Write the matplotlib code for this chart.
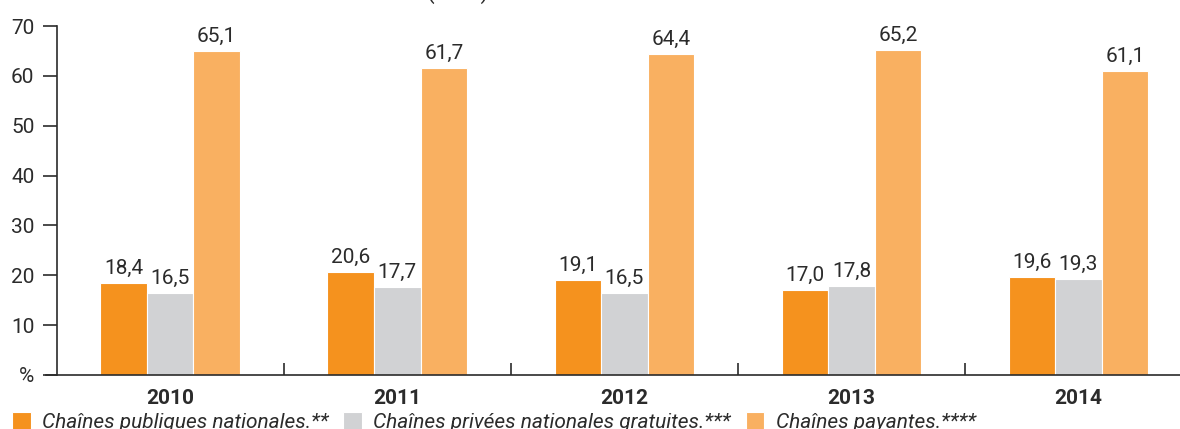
import numpy as np
import matplotlib.pyplot as plt
from matplotlib.ticker import FixedLocator

# Data
years = ['2010', '2011', '2012', '2013', '2014']
publiques = [18.4, 20.6, 19.1, 17.0, 19.6]
privees = [16.5, 17.7, 16.5, 17.8, 19.3]
payantes = [65.1, 61.7, 64.4, 65.2, 61.1]
series_names = ['Chaînes publiques nationales.**',
                'Chaînes privées nationales gratuites.***',
                'Chaînes payantes.****']
yticks = [0, 10, 20, 30, 40, 50, 60, 70]
ytick_labels = ['%', '10', '20', '30', '40', '50', '60', '70']

colors = ['#F5921E', '#D1D2D4', '#F9B061']
text_color = '#2b2b2b'

plt.rcParams['font.family'] = ['Roboto', 'DejaVu Sans']

fig = plt.figure(figsize=(11.8, 4.29), dpi=100)
ax = fig.add_axes([0.048, 0.126, 0.952, 0.813])

x = np.arange(len(years))
w = 0.205
for i, (vals, col, name) in enumerate(zip([publiques, privees, payantes], colors, series_names)):
    bars = ax.bar(x + (i - 1) * w, vals, w, color=col, edgecolor='white',
                  linewidth=0.8, label=name)
    for b, v in zip(bars, vals):
        ax.text(b.get_x() + b.get_width() / 2, v + 1.0, f'{v:.1f}'.replace('.', ','),
                ha='center', va='bottom', fontsize=15, color=text_color)

ax.set_ylim(0, 70)
ax.set_xlim(-0.5, 4.447)
ax.set_yticks(yticks)
ax.set_yticklabels(ytick_labels)
ax.tick_params(axis='y', direction='out', length=10, width=1.2, colors=text_color,
               labelsize=15, pad=6)
ax.set_xticks(x)
ax.set_xticklabels(years, fontweight='bold')
ax.tick_params(axis='x', which='major', length=0, labelsize=15, pad=10, colors=text_color)
ax.xaxis.set_minor_locator(FixedLocator([0.5, 1.5, 2.5, 3.5]))
ax.tick_params(axis='x', which='minor', direction='in', length=9, width=1.2, color=text_color)

for s in ['top', 'right']:
    ax.spines[s].set_visible(False)
for s in ['left', 'bottom']:
    ax.spines[s].set_color(text_color)
    ax.spines[s].set_linewidth(1.2)
ax.spines['bottom'].set_bounds(-0.545, 4.447)
ax.spines['bottom'].set_clip_on(False)

# cut-off title at the very top (only the bottom of the parentheses shows)
fig.text(0.388, 1.018, '(en %)', fontsize=16, color=text_color, ha='center', va='center')

leg = fig.legend(loc='center left', bbox_to_anchor=(0.010, 0.016), ncol=3, frameon=False,
                 prop={'style': 'italic', 'size': 15}, handlelength=0.9, handleheight=0.9,
                 handletextpad=0.55, columnspacing=0.7, borderaxespad=0, borderpad=0)
for t in leg.get_texts():
    t.set_color(text_color)

fig.savefig('out.png', dpi=100)
